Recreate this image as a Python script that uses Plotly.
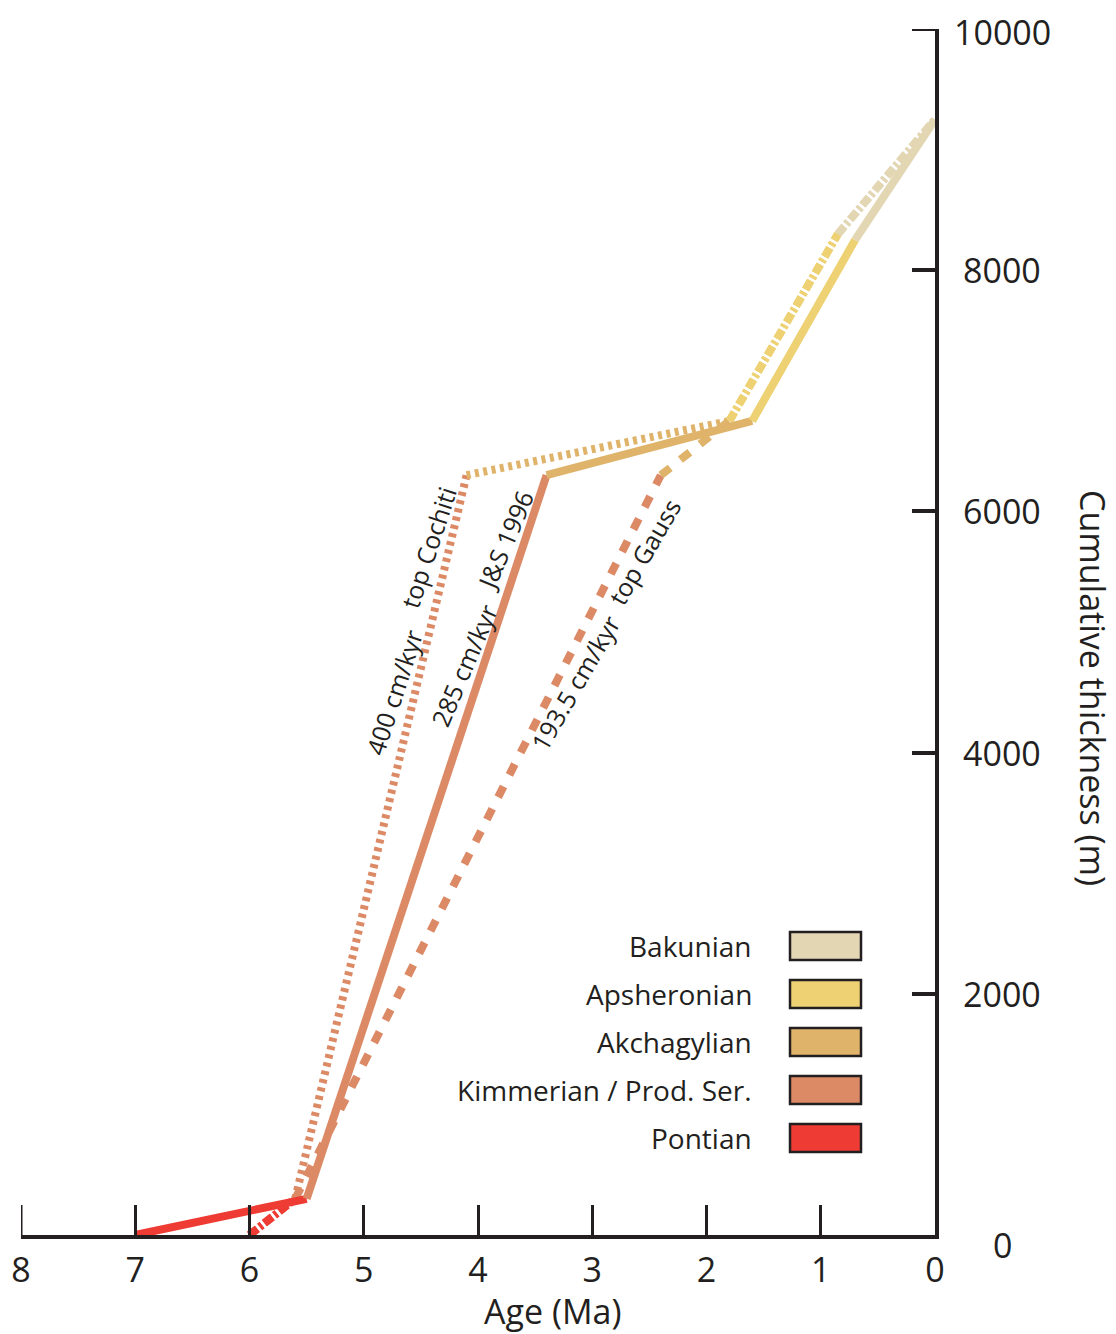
import plotly.graph_objects as go

# ---------------- data ----------------
stages = ["Pontian", "Kimmerian / Prod. Ser.", "Akchagylian", "Apsheronian", "Bakunian"]
stage_colors = ["#EE3C34", "#DC8A66", "#DFB36A", "#EDD172", "#E3D6B3"]

# J&S 1996 (285 cm/kyr) - solid
js_age = [7.0, 5.5, 3.4, 1.6, 0.7, 0.0]
js_thk = [0, 300, 6300, 6750, 8250, 9250]

# top Cochiti (400 cm/kyr) - dotted
cochiti_age = [6.0, 5.6, 4.1, 1.8, 0.85, 0.0]
cochiti_thk = [0, 300, 6300, 6750, 8300, 9250]

# top Gauss (193.5 cm/kyr) - dashed
gauss_age = [6.0, 5.6, 2.4, 1.8, 0.85, 0.0]
gauss_thk = [0, 300, 6300, 6750, 8300, 9250]

x_ticks = [8, 7, 6, 5, 4, 3, 2, 1, 0]
y_ticks = [0, 2000, 4000, 6000, 8000, 10000]

# ---------------- styles ----------------
INK = "#231F20"
FONT = "Open Sans"
LW = 8
DOT = "4px,4.5px"
DASH = "12px,13px"
DASHDOT = "10px,3px,3px,3px"
cochiti_dash = [DASHDOT, DOT, DOT, DASHDOT, DASHDOT]
gauss_dash = [DASHDOT, DASH, DASH, DASHDOT, DASHDOT]

fig = go.Figure()


def add_path(ages, thks, dashes):
    for i in range(len(stages)):
        fig.add_trace(go.Scatter(
            x=[ages[i], ages[i + 1]], y=[thks[i], thks[i + 1]],
            mode="lines",
            line=dict(color=stage_colors[i], width=LW, dash=dashes[i]),
            showlegend=False, hoverinfo="skip"))


add_path(gauss_age, gauss_thk, gauss_dash)
add_path(cochiti_age, cochiti_thk, cochiti_dash)
add_path(js_age, js_thk, ["solid"] * 5)

# ---------------- layout helpers (screen pixel -> paper) ----------------
L, R, T, B = 21, 935, 29, 1235   # plot area on screen
OFF = 8                          # default page body margin
FIG_W, FIG_H = 1116 - OFF, 1334 - OFF


def px(xpix):
    return (xpix - L) / (R - L)


def py(ypix):
    return (B - ypix) / (B - T)


annotations = []
shapes = []

# rotated labels along the lines (screen-pixel centres, angle)
line_labels = [
    ("400 cm/kyr", 394, 692, -72),
    ("top Cochiti", 428, 548, -72),
    ("285 cm/kyr", 464, 665, -67),
    ("J&S 1996", 505, 540, -67),
    ("193.5 cm/kyr", 575, 683, -60),
    ("top Gauss", 644, 552, -60),
]
for txt, xp_, yp_, ang in line_labels:
    annotations.append(dict(
        text=txt, x=px(xp_), y=py(yp_), xref="paper", yref="paper",
        xanchor="center", yanchor="middle", textangle=ang, showarrow=False,
        font=dict(family=FONT, size=25, color=INK)))

# y tick labels (centred, right of the axis)
for v in y_ticks:
    shift = 0
    if v == y_ticks[0]:
        shift = -10
    elif v == y_ticks[-1]:
        shift = -3
    annotations.append(dict(
        text=str(v), x=px(1002), y=v, xref="paper", yref="y",
        xanchor="center", yanchor="middle", showarrow=False,
        yshift=shift,
        font=dict(family=FONT, size=34, color=INK)))

# end ticks that plotly drops at the plot-area edge
shapes.append(dict(type="line", xref="paper", yref="y", x0=px(912), x1=1,
                   y0=y_ticks[-1], y1=y_ticks[-1], line=dict(color=INK, width=4)))
shapes.append(dict(type="line", xref="x", yref="paper", x0=x_ticks[0], x1=x_ticks[0],
                   y0=0, y1=py(1205), line=dict(color=INK, width=3)))

# legend (top to bottom)
legend_order = ["Bakunian", "Apsheronian", "Akchagylian", "Kimmerian / Prod. Ser.", "Pontian"]
row0, step = 946, 48
for k, name in enumerate(legend_order):
    col = stage_colors[stages.index(name)]
    yc = row0 + k * step
    shapes.append(dict(type="rect", xref="paper", yref="paper",
                       x0=px(790), x1=px(861), y0=py(yc + 14), y1=py(yc - 14),
                       fillcolor=col, line=dict(color=INK, width=2.5)))
    annotations.append(dict(
        text=name, x=px(754), y=py(yc), xref="paper", yref="paper",
        xanchor="right", yanchor="middle", showarrow=False,
        font=dict(family=FONT, size=28, color=INK)))

# axis titles
annotations.append(dict(text="Age (Ma)", x=px(552), y=py(1311), xref="paper", yref="paper",
                        xanchor="center", yanchor="middle", showarrow=False,
                        font=dict(family=FONT, size=34, color=INK)))
annotations.append(dict(text="Cumulative thickness (m)", x=px(1093), y=py(688),
                        xref="paper", yref="paper", xanchor="center", yanchor="middle",
                        textangle=90, showarrow=False,
                        font=dict(family=FONT, size=34, color=INK)))

fig.update_layout(
    width=FIG_W, height=FIG_H, autosize=False,
    margin=dict(l=L - OFF, r=FIG_W - (R - OFF), t=T - OFF, b=FIG_H - (B - OFF), pad=0),
    paper_bgcolor="white", plot_bgcolor="white",
    showlegend=False,
    annotations=annotations, shapes=shapes,
    xaxis=dict(range=[8, 0], tickvals=x_ticks, ticktext=[str(v) for v in x_ticks],
               ticks="inside", ticklen=30, tickwidth=3, tickcolor=INK,
               showline=True, linewidth=4, linecolor=INK, automargin=False,
               showgrid=False, zeroline=False, ticklabelstandoff=2,
               tickfont=dict(family=FONT, size=34, color=INK)),
    yaxis=dict(range=[0, 10000], side="right", tickvals=y_ticks,
               showticklabels=False,
               ticks="inside", ticklen=23, tickwidth=4, tickcolor=INK,
               showline=True, linewidth=4, linecolor=INK, automargin=False,
               showgrid=False, zeroline=False),
)

fig.write_html("out.html")
